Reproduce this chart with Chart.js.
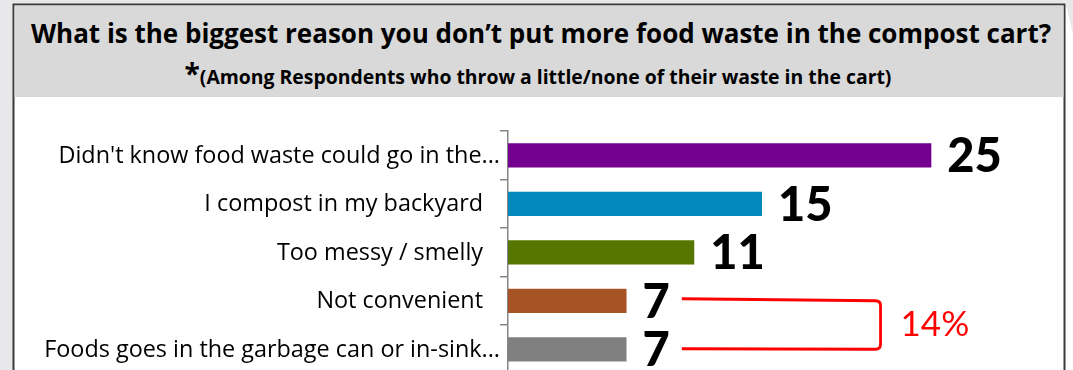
<!DOCTYPE html>
<html>
<head>
<meta charset="utf-8">
<script src="https://cdn.jsdelivr.net/npm/chart.js@4.4.1/dist/chart.umd.min.js"></script>
<style>
  html, body { margin: 0; padding: 0; }
  body { width: 1073px; height: 370px; overflow: hidden; position: relative; background: #fff; }
  #frame { position: absolute; left: 0; top: 0; }
  #plot { position: absolute; left: 0; top: 97px; }
</style>
</head>
<body>
<svg id="frame" width="1073" height="370" xmlns="http://www.w3.org/2000/svg">
  <rect x="0" y="0" width="1073" height="370" fill="#e8e8ea"/>
  <rect x="1065" y="0" width="8" height="370" fill="#ffffff"/>
  <polygon points="1065,0 1073,0 1073,34 1067,9" fill="#e8e8ea"/>
  <rect x="13.5" y="4.5" width="1051" height="400" fill="#ffffff" stroke="#3a3a3a" stroke-width="2"/>
  <rect x="14.5" y="5.5" width="1049" height="91.5" fill="#d9d9d9"/>
  <text x="541" y="43.3" text-anchor="middle" font-family="Open Sans" font-weight="bold" font-size="26" fill="#000">What is the biggest reason you don’t put more food waste in the compost cart?</text>
  <text x="538" y="84" text-anchor="middle" font-family="Open Sans" font-weight="bold" fill="#000"><tspan font-size="28">*</tspan><tspan font-size="19.4">(Among Respondents who throw a little/none of their waste in the cart)</tspan></text>
</svg>
<canvas id="plot" width="1073" height="290"></canvas>
<script>
// Survey answers, top to bottom
const categories = [
  "Didn't know food waste could go in the...",
  "I compost in my backyard",
  "Too messy / smelly",
  "Not convenient",
  "Foods goes in the garbage can or in-sink..."
];
const values = [25, 15, 11, 7, 7];
const barColors = ['#73008f', '#0288ba', '#567601', '#a65425', '#808080'];
// Rows joined by the red bracket and its combined share
const bracketRows = [3, 4];
const bracketAt = 22;   // x value where the bracket turns

const LABEL_FONT = '"Open Sans", sans-serif';
const NUM_FONT = 'Lato, "Open Sans", sans-serif';

// Category names, right-aligned against the axis
const categoryLabels = {
  id: 'categoryLabels',
  afterDraw(chart) {
    const { ctx, chartArea } = chart;
    const y = chart.scales.y;
    ctx.save();
    ctx.font = '23.4px ' + LABEL_FONT;
    ctx.fillStyle = '#000';
    ctx.textAlign = 'right';
    ctx.textBaseline = 'alphabetic';
    categories.forEach((name, i) => {
      const inset = name.endsWith('...') ? 8 : 25;
      ctx.fillText(name, chartArea.left - inset, y.getPixelForValue(i) + 7.5);
    });
    ctx.restore();
  }
};

// Bold value next to each bar, plus the bracket with the summed share
const valueLabels = {
  id: 'valueLabels',
  afterDatasetsDraw(chart) {
    const { ctx } = chart;
    const meta = chart.getDatasetMeta(0);
    const xs = chart.scales.x;
    ctx.save();
    ctx.font = '900 47px ' + NUM_FONT;
    ctx.fillStyle = '#000';
    ctx.textAlign = 'left';
    ctx.textBaseline = 'alphabetic';
    const ends = [];
    meta.data.forEach((bar, i) => {
      const txt = String(values[i]);
      const x0 = bar.x + 16;
      ctx.fillText(txt, x0, bar.y + 17);
      ends.push(x0 + ctx.measureText(txt).width);
    });

    const [a, b] = bracketRows;
    const ya = meta.data[a].y, yb = meta.data[b].y;
    const xStart = Math.max(ends[a], ends[b]) + 12;
    const xTurn = xs.getPixelForValue(bracketAt);
    const r = 5;
    ctx.strokeStyle = '#ff0000';
    ctx.lineWidth = 2.8;
    ctx.lineJoin = 'round';
    ctx.beginPath();
    ctx.moveTo(xStart, ya - 2);
    ctx.lineTo(xTurn - r, ya);
    ctx.quadraticCurveTo(xTurn, ya, xTurn, ya + r);
    ctx.lineTo(xTurn, yb - r);
    ctx.quadraticCurveTo(xTurn, yb, xTurn - r, yb);
    ctx.lineTo(xStart, yb - 0.5);
    ctx.stroke();

    const share = bracketRows.reduce((s, k) => s + values[k], 0);
    ctx.font = '35px ' + NUM_FONT;
    ctx.fillStyle = '#ff0000';
    ctx.fillText(share + '%', xTurn + 20, (ya + yb) / 2 + 10.7);
    ctx.restore();
  }
};

new Chart(document.getElementById('plot'), {
  type: 'bar',
  data: {
    labels: categories,
    datasets: [{
      data: values,
      backgroundColor: barColors,
      borderWidth: 0,
      barPercentage: 0.5,
      categoryPercentage: 1
    }]
  },
  options: {
    indexAxis: 'y',
    responsive: false,
    animation: false,
    devicePixelRatio: 1,
    layout: { padding: { top: 34, bottom: 13.5, left: 0, right: 57 } },
    plugins: { legend: { display: false }, tooltip: { enabled: false } },
    scales: {
      x: { min: 0, max: 30, display: false },
      y: {
        grid: {
          offset: true,
          drawOnChartArea: false,
          drawTicks: true,
          tickLength: 8,
          color: '#868686',
          lineWidth: 1.5
        },
        border: { display: true, color: '#868686', width: 1.5 },
        ticks: { display: false },
        afterFit(scale) { scale.width = 508; }
      }
    }
  },
  plugins: [categoryLabels, valueLabels]
});
</script>
</body>
</html>
